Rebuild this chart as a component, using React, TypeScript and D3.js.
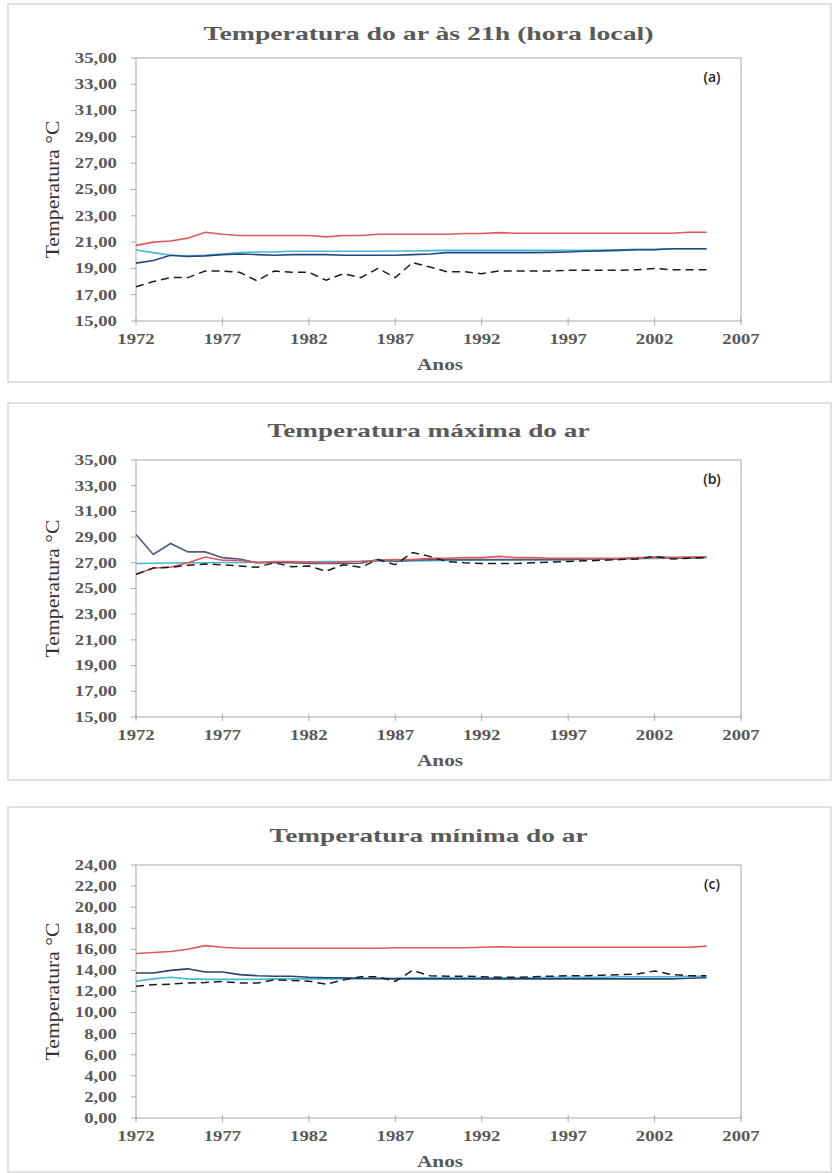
import React from "react";
import * as d3 from "d3";

const years = [1972,1973,1974,1975,1976,1977,1978,1979,1980,1981,1982,1983,1984,1985,1986,1987,1988,1989,1990,1991,1992,1993,1994,1995,1996,1997,1998,1999,2000,2001,2002,2003,2004,2005];
const xTicks = [1972,1977,1982,1987,1992,1997,2002,2007];
const yTicksAB = [15,17,19,21,23,25,27,29,31,33,35];
const yTicksC = [0,2,4,6,8,10,12,14,16,18,20,22,24];

// (a) 21h
const redA = [20.75,21.0,21.08,21.3,21.75,21.6,21.5,21.5,21.5,21.5,21.5,21.4,21.5,21.5,21.6,21.6,21.6,21.6,21.6,21.65,21.65,21.72,21.67,21.67,21.67,21.67,21.67,21.67,21.67,21.67,21.67,21.67,21.75,21.75];
const cyanA = [20.4,20.2,20.0,19.95,20.0,20.1,20.2,20.25,20.25,20.3,20.3,20.3,20.3,20.3,20.3,20.32,20.32,20.35,20.37,20.37,20.37,20.37,20.37,20.37,20.37,20.37,20.37,20.4,20.42,20.45,20.45,20.5,20.5,20.5];
const darkA = [19.4,19.6,20.0,19.9,19.95,20.05,20.1,20.05,20.0,20.05,20.05,20.05,20.0,20.0,20.0,20.0,20.05,20.1,20.2,20.2,20.2,20.2,20.2,20.2,20.22,20.25,20.3,20.33,20.37,20.42,20.42,20.5,20.5,20.5];
const dashA = [17.6,18.0,18.3,18.3,18.8,18.8,18.7,18.05,18.8,18.7,18.7,18.1,18.6,18.3,19.0,18.3,19.45,19.1,18.75,18.75,18.6,18.8,18.8,18.8,18.8,18.85,18.85,18.85,18.85,18.9,19.0,18.9,18.9,18.9];

// (b) maxima
const redB = [26.1,26.6,26.65,27.0,27.45,27.2,27.2,27.0,27.1,27.1,27.05,27.0,27.05,27.1,27.2,27.25,27.25,27.35,27.35,27.4,27.4,27.5,27.4,27.4,27.35,27.35,27.35,27.35,27.35,27.4,27.4,27.4,27.45,27.45];
const cyanB = [26.95,26.97,26.98,27.0,27.0,27.02,27.03,27.05,27.05,27.06,27.08,27.1,27.1,27.12,27.13,27.15,27.15,27.16,27.18,27.2,27.2,27.22,27.23,27.25,27.25,27.27,27.28,27.3,27.3,27.32,27.33,27.35,27.36,27.38];
const darkB = [29.2,27.65,28.5,27.85,27.85,27.4,27.3,27.0,27.0,27.0,26.95,26.95,26.95,26.97,27.25,27.1,27.2,27.25,27.25,27.25,27.25,27.25,27.25,27.25,27.25,27.25,27.3,27.3,27.3,27.35,27.45,27.4,27.4,27.45];
const dashB = [26.1,26.6,26.65,26.8,26.9,26.85,26.75,26.65,27.0,26.7,26.75,26.35,26.85,26.65,27.25,26.85,27.8,27.5,27.1,27.0,26.95,26.95,26.95,27.0,27.05,27.1,27.15,27.2,27.25,27.3,27.5,27.3,27.35,27.4];

// (c) minima
const redC = [15.6,15.7,15.8,16.0,16.35,16.2,16.1,16.1,16.1,16.1,16.1,16.1,16.1,16.1,16.1,16.15,16.15,16.15,16.15,16.15,16.2,16.25,16.2,16.2,16.2,16.2,16.2,16.2,16.2,16.2,16.2,16.2,16.2,16.3];
const cyanC = [12.97,13.2,13.35,13.2,13.15,13.15,13.15,13.15,13.2,13.2,13.2,13.2,13.2,13.2,13.25,13.25,13.3,13.3,13.3,13.3,13.3,13.3,13.3,13.3,13.35,13.35,13.35,13.35,13.4,13.4,13.4,13.4,13.45,13.45];
const darkC = [13.75,13.75,14.0,14.15,13.85,13.85,13.6,13.5,13.45,13.45,13.35,13.3,13.3,13.25,13.22,13.2,13.2,13.2,13.2,13.2,13.2,13.2,13.2,13.2,13.2,13.2,13.2,13.2,13.2,13.2,13.2,13.2,13.25,13.3];
const dashC = [12.5,12.65,12.7,12.8,12.85,12.95,12.8,12.8,13.1,13.05,12.97,12.7,13.1,13.4,13.4,12.95,14.0,13.5,13.45,13.45,13.4,13.35,13.35,13.4,13.45,13.5,13.5,13.55,13.6,13.65,13.95,13.6,13.5,13.5];

const titles = ["Temperatura  do ar às 21h (hora local)", "Temperatura  máxima do ar", "Temperatura  mínima do ar"];
const tags = ["(a)", "(b)", "(c)"];

const COLORS = { red: "#e0585a", cyan: "#45b8d8", dash: "#1c1c1c" };

type PanelCfg = {
  title: string; tag: string; titleW: number;
  bTop: number; bBot: number; titleY: number; pTop: number; pBot: number;
  domain: [number, number]; yTicks: number[];
  red: number[]; cyan: number[]; dark: number[]; dash: number[]; darkColor: string;
};

const panels: PanelCfg[] = [
  { title: titles[0], tag: tags[0], titleW: 450, bTop: 4, bBot: 382, titleY: 33, pTop: 58, pBot: 321, domain: [15, 35], yTicks: yTicksAB, red: redA, cyan: cyanA, dark: darkA, dash: dashA, darkColor: "#24497f" },
  { title: titles[1], tag: tags[1], titleW: 322, bTop: 403, bBot: 780, titleY: 430, pTop: 460, pBot: 717, domain: [15, 35], yTicks: yTicksAB, red: redB, cyan: cyanB, dark: darkB, dash: dashB, darkColor: "#4f5b7e" },
  { title: titles[2], tag: tags[2], titleW: 318, bTop: 807, bBot: 1172, titleY: 835, pTop: 865, pBot: 1118, domain: [0, 24], yTicks: yTicksC, red: redC, cyan: cyanC, dark: darkC, dash: dashC, darkColor: "#2a4270" },
];

const PL = 136, PR = 741;
const SX = 1.25;
const SERIF = "'Liberation Serif', 'Times New Roman', serif";
const fmt = (v: number) => d3.format(".2f")(v).replace(".", ",");

function SText({ x, y, sx = SX, anchor = "middle", size, weight = "bold", fill = "#595959", children }: any) {
  return (
    <text transform={`translate(${x},${y}) scale(${sx},1)`} textAnchor={anchor} fontSize={size} fontWeight={weight} fill={fill} fontFamily={SERIF} dominantBaseline="central">
      {children}
    </text>
  );
}

function Panel({ cfg }: { cfg: PanelCfg }) {
  const x = d3.scaleLinear().domain([1972, 2007]).range([PL, PR]);
  const y = d3.scaleLinear().domain(cfg.domain).range([cfg.pBot, cfg.pTop]);
  const line = d3.line<number>().x((_, i) => x(years[i])).y((d) => y(d));
  const midY = (cfg.pTop + cfg.pBot) / 2;
  return (
    <g>
      <rect x={8} y={cfg.bTop} width={823} height={cfg.bBot - cfg.bTop} fill="#fff" stroke="#d6d6d6" strokeWidth={1.5} />
      <text x={(PL + PR) / 2 - 10} y={cfg.titleY} textAnchor="middle" dominantBaseline="central" fontFamily={SERIF} fontWeight="bold" fontSize={19} fill="#595959" textLength={cfg.titleW} lengthAdjust="spacingAndGlyphs">{cfg.title}</text>
      <rect x={PL} y={cfg.pTop} width={PR - PL} height={cfg.pBot - cfg.pTop} fill="none" stroke="#a8a8a8" strokeWidth={1} />
      {cfg.yTicks.map((t) => (
        <g key={t}>
          <line x1={PL - 5} x2={PL} y1={y(t)} y2={y(t)} stroke="#a8a8a8" />
          <SText x={PL - 19} y={y(t)} anchor="end" size={15}>{fmt(t)}</SText>
        </g>
      ))}
      {xTicks.map((t) => (
        <g key={t}>
          <line x1={x(t)} x2={x(t)} y1={cfg.pBot - 3} y2={cfg.pBot + 4} stroke="#a8a8a8" />
          <SText x={x(t)} y={cfg.pBot + 18} size={15}>{t}</SText>
        </g>
      ))}
      <SText x={440} y={cfg.pBot + 43} size={17}>Anos</SText>
      <text transform={`translate(52,${midY}) rotate(-90)`} textAnchor="middle" dominantBaseline="central" fontFamily={SERIF} fontSize={19} fill="#333" textLength={138} lengthAdjust="spacingAndGlyphs">Temperatura °C</text>
      <text x={712} y={cfg.pTop + 18} textAnchor="middle" dominantBaseline="central" fontFamily="'Open Sans', 'Noto Sans', sans-serif" fontSize={14} fontWeight={600} fill="#222">{cfg.tag}</text>
      <path d={line(cfg.cyan) || ""} fill="none" stroke={COLORS.cyan} strokeWidth={1.6} />
      <path d={line(cfg.dark) || ""} fill="none" stroke={cfg.darkColor} strokeWidth={1.6} />
      <path d={line(cfg.red) || ""} fill="none" stroke={COLORS.red} strokeWidth={1.6} />
      <path d={line(cfg.dash) || ""} fill="none" stroke={COLORS.dash} strokeWidth={1.5} strokeDasharray="8,5" />
    </g>
  );
}

export default function App() {
  return (
    <svg width={832} height={1173} style={{ position: "absolute", left: 0, top: 0, display: "block", background: "#fff" }}>
      {panels.map((p, i) => <Panel key={i} cfg={p} />)}
    </svg>
  );
}
